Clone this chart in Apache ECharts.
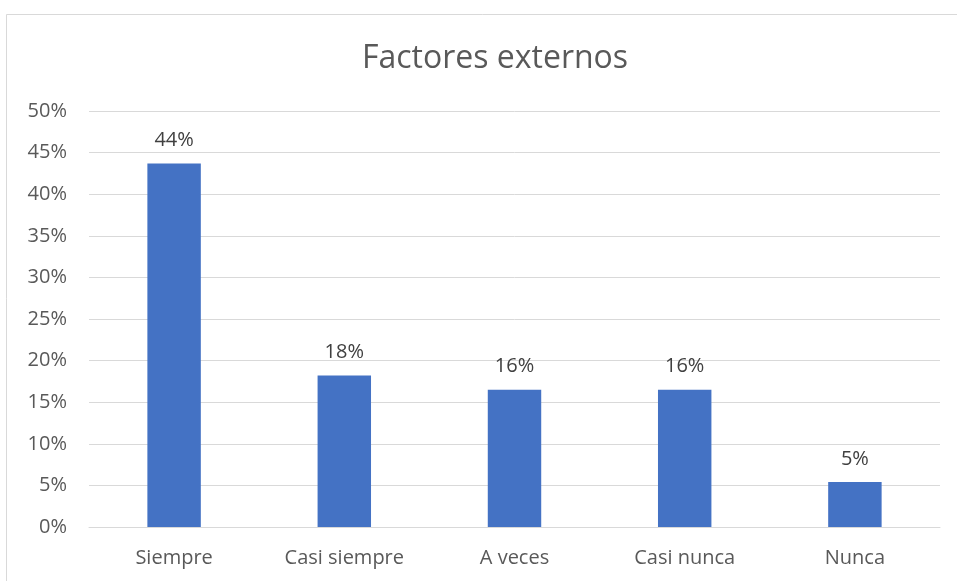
<!DOCTYPE html>
<html>
<head>
<meta charset="utf-8">
<script src="https://cdn.jsdelivr.net/npm/echarts@6/dist/echarts.min.js"></script>
<style>
html,body{margin:0;padding:0;background:#fff;}
#main{width:957px;height:581px;}
</style>
</head>
<body>
<div id="main"></div>
<script>
var categories = ['Siempre', 'Casi siempre', 'A veces', 'Casi nunca', 'Nunca'];
var values = [43.7, 18.2, 16.5, 16.5, 5.4];
var labels = ['44%', '18%', '16%', '16%', '5%'];

var chart = echarts.init(document.getElementById('main'), null, {renderer: 'canvas'});
var font = '"Open Sans", "Noto Sans", sans-serif';
chart.setOption({
  animation: false,
  backgroundColor: '#ffffff',
  graphic: [{
    type: 'rect', left: 4, top: 12,
    shape: {width: 1000, height: 600},
    style: {fill: 'none', stroke: '#d9d9d9', lineWidth: 1},
    silent: true
  }],
  title: {
    text: 'Factores externos',
    left: 490, top: 38,
    textAlign: 'center',
    textStyle: {fontFamily: font, fontSize: 32, fontWeight: 'normal', color: '#595959'}
  },
  grid: {left: 89, right: 17, top: 111, bottom: 54, containLabel: false},
  xAxis: {
    type: 'category',
    data: categories,
    axisLine: {show: true, lineStyle: {color: '#d9d9d9', width: 1}},
    axisTick: {show: false},
    axisLabel: {fontFamily: font, fontSize: 20, color: '#595959', margin: 21}
  },
  yAxis: {
    type: 'value',
    min: 0, max: 50, interval: 5,
    axisLine: {show: false},
    axisTick: {show: false},
    splitLine: {lineStyle: {color: '#d9d9d9', width: 1}},
    axisLabel: {fontFamily: font, fontSize: 20, color: '#595959', margin: 22,
      formatter: function (v) { return v + '%'; }}
  },
  series: [{
    type: 'bar',
    data: values,
    barWidth: '31.4%',
    itemStyle: {color: '#4472c4'},
    label: {
      show: true, position: 'top', distance: 13,
      fontFamily: font, fontSize: 20, color: '#404040',
      formatter: function (p) { return labels[p.dataIndex]; }
    }
  }]
});
</script>
</body>
</html>
